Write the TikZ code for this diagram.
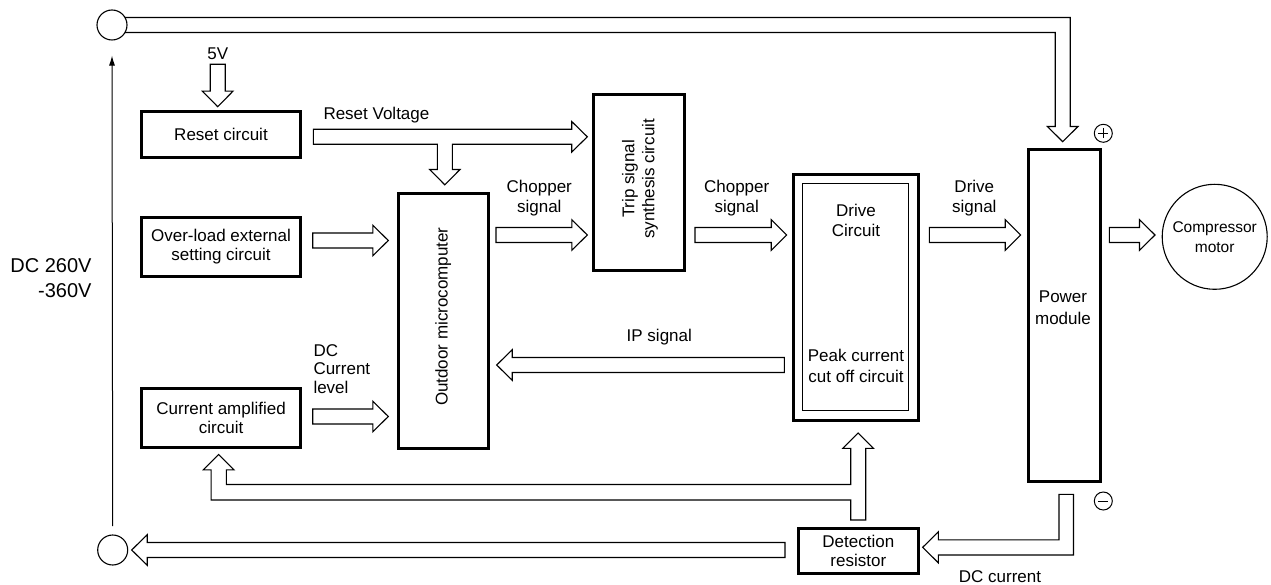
\documentclass[tikz,border=0pt]{standalone}
\usepackage{fontspec}
\setmainfont{Liberation Sans}
\usetikzlibrary{calc,arrows.meta}
\newcommand\fs{\fontsize{17}{19.5}\selectfont}
\def\aw{7.5pt}\def\ah{15.3pt}\def\al{15.5pt}
\newcommand\harR[2]{\draw[harrow] let \p1=(#1), \p2=(#2) in (\x1,{\y1+\aw}) -- ({\x2-\al},{\y1+\aw}) -- ({\x2-\al},{\y1+\ah}) -- (\x2,\y1) -- ({\x2-\al},{\y1-\ah}) -- ({\x2-\al},{\y1-\aw}) -- (\x1,{\y1-\aw}) -- cycle;}
\newcommand\harL[2]{\draw[harrow] let \p1=(#1), \p2=(#2) in (\x1,{\y1+\aw}) -- ({\x2+\al},{\y1+\aw}) -- ({\x2+\al},{\y1+\ah}) -- (\x2,\y1) -- ({\x2+\al},{\y1-\ah}) -- ({\x2+\al},{\y1-\aw}) -- (\x1,{\y1-\aw}) -- cycle;}
\newcommand\harD[2]{\draw[harrow] let \p1=(#1), \p2=(#2) in ({\x1-\aw},\y1) -- ({\x1-\aw},{\y2+\al}) -- ({\x1-\ah},{\y2+\al}) -- (\x1,\y2) -- ({\x1+\ah},{\y2+\al}) -- ({\x1+\aw},{\y2+\al}) -- ({\x1+\aw},\y1) -- cycle;}
\begin{document}
\begin{tikzpicture}[x=1pt,y=-1pt,
  box/.style={draw,line width=3pt,inner sep=0pt,align=center,font=\fs},
  lbl/.style={inner sep=0pt,align=center,font=\fs},
  harrow/.style={draw,line width=1.1pt,fill=white,line join=miter},
  ring/.style={draw,circle,line width=1.1pt,inner sep=0pt}]
\useasboundingbox (0,0) rectangle (1271,585);

% blocks
\node[box,minimum width=159pt,minimum height=46pt] (reset) at (221,134.7) {Reset circuit};
\node[box,minimum width=159pt,minimum height=58.7pt] (over) at (221,246.8) {Over-load external\\setting circuit};
\node[box,minimum width=159pt,minimum height=59.3pt] (curamp) at (221.1,417.8) {Current amplified\\circuit};
\node[box,minimum width=90.3pt,minimum height=255.3pt] (outdoor) at (443.3,320.8) {};
\node[lbl,rotate=90] (outdoorT) at (443.3,316.7) {Outdoor microcomputer};
\node[box,minimum width=90.4pt,minimum height=175.4pt] (trip) at (639,182.5) {};
\node[lbl,rotate=90,font=\fontsize{17}{20}\selectfont] (tripT) at (640,179) {Trip signal\\synthesis circuit};
\node[box,minimum width=124.7pt,minimum height=245.4pt] (drive) at (856.1,297.5) {};
\node[draw,line width=1pt,minimum width=106.3pt,minimum height=226pt,inner sep=0pt] (drivein) at (855.8,297) {};
\node[lbl,font=\fontsize{17}{20.7}\selectfont] (driveT) at (856,220.3) {Drive\\Circuit};
\node[lbl,font=\fontsize{17}{21.5}\selectfont] (peakT) at (856,366) {Peak current\\cut off circuit};
\node[box,minimum width=72.3pt,minimum height=332.6pt] (power) at (1064.3,315.5) {};
\node[lbl,font=\fontsize{17}{21.5}\selectfont] (powerT) at (1063,307.5) {Power\\module};
\node[box,minimum width=120.3pt,minimum height=45.3pt] (detect) at (858.3,550.8) {Detection\\resistor};
\node[ring,minimum size=105pt,font=\fontsize{15.5}{20}\selectfont,align=center] (motor) at (1214.7,236.8) {Compressor\\motor};
\node[ring,minimum size=30pt] (topc) at (112,25) {};
\node[ring,minimum size=30pt] (botc) at (112.7,550) {};
\node[ring,line width=1pt,minimum size=18pt] (plus) at (1103.3,133.3) {};
\node[ring,line width=1pt,minimum size=18pt] (minus) at (1103.3,501) {};
\draw[line width=1pt] ($(plus.center)+(-5,0)$) -- ($(plus.center)+(5,0)$) ($(plus.center)+(0,-5)$) -- ($(plus.center)+(0,5)$);
\draw[line width=1pt] ($(minus.center)+(-5,0)$) -- ($(minus.center)+(5,0)$);

% labels
\node[lbl] (v5) at (217.7,53.3) {5V};
\node[lbl,anchor=west] (rv) at (323.3,115) {Reset Voltage};
\node[lbl] (ch1) at (539.3,198.3) {Chopper\\signal};
\node[lbl] (ch2) at (736.7,198.3) {Chopper\\signal};
\node[lbl] (ds) at (974.3,198) {Drive\\signal};
\node[lbl] (ip) at (659.3,336.7) {IP signal};
\node[lbl,anchor=west,align=left,font=\fontsize{17}{18.3}\selectfont] (dcl) at (313.3,369) {DC\\Current\\level};
\node[inner sep=0pt,anchor=east,align=right,font=\fontsize{20}{25.3}\selectfont] (dcv) at (91.7,278.3) {DC 260V\\-360V};
\node[lbl] (dcc) at (1000,576.7) {DC current};

% supply line
\draw[line width=1pt,-{Latex[length=10pt,width=6pt]}] ($(botc.north)+(0,-8.3)$) -- ($(topc.south)+(0,15)$);

% top bus to power module
\draw[harrow,fill=none] (125,17.5) -- (1070.2,17.5) -- (1070.2,126.5) -- (1078,126.5) -- (1062.7,141.7) -- (1047.4,126.5) -- (1055.2,126.5) -- (1055.2,32.5) -- (125,32.5);

% reset voltage T bus
\draw[harrow] (313.3,129.3) -- (571.7,129.3) -- (571.7,121.5) -- (587.3,136.8) -- (571.7,152.1) -- (571.7,144.3) -- (452.3,144.3) -- (452.3,169.5) -- (460,169.5) -- (444.8,184.8) -- (429.6,169.5) -- (437.3,169.5) -- (437.3,144.3) -- (313.3,144.3) -- cycle;

% detection feedback bus
\draw[harrow] (865.7,520) -- (865.7,448.3) -- (873.5,448.3) -- (858.2,433) -- (842.9,448.3) -- (850.7,448.3) -- (850.7,484.5) -- (226.3,484.5) -- (226.3,469.8) -- (234,469.8) -- (218.7,454.5) -- (203.4,469.8) -- (211.1,469.8) -- (211.1,500) -- (850.7,500) -- (850.7,520) -- cycle;

% DC current bus
\draw[harrow] (1059,494.3) -- (1073.5,494.3) -- (1073.5,555) -- (938.3,555) -- (938.3,562.8) -- (922.7,547.3) -- (938.3,531.8) -- (938.3,539.8) -- (1059,539.8) -- cycle;

% simple hollow arrows
\harD{217.7,64.3}{217.7,106.7}
\harR{312.7,240.5}{388.3,240.5}
\harR{312.7,416.5}{388.3,416.5}
\harR{496,235}{587.3,235}
\harR{695,235}{786.7,235}
\harR{929.3,235}{1020.7,235}
\harR{1109.3,235}{1155,235}
\harL{784.3,365}{496.7,365}
\harL{785,550}{131.7,550}
\end{tikzpicture}
\end{document}
